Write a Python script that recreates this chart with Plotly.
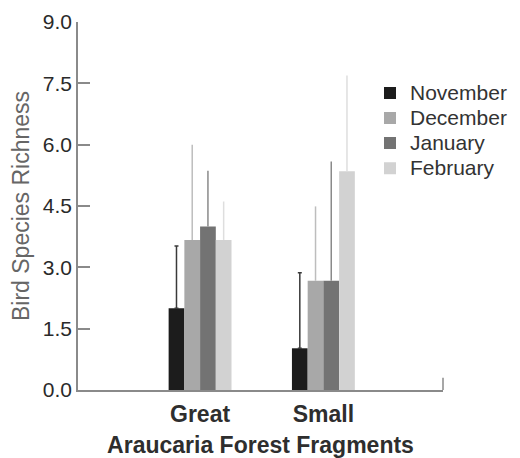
import plotly.graph_objects as go

categories = ["Great", "Small"]
months = ["November", "December", "January", "February"]
values = {
    "November": [2.0, 1.02],
    "December": [3.67, 2.67],
    "January": [4.0, 2.67],
    "February": [3.67, 5.35],
}
errors = {
    "November": [1.52, 1.85],
    "December": [2.33, 1.82],
    "January": [1.36, 2.92],
    "February": [0.94, 2.34],
}
bar_colors = {
    "November": "#1c1c1c",
    "December": "#a8a8a8",
    "January": "#737373",
    "February": "#d2d2d2",
}
err_colors = {
    "November": "#3a3a3a",
    "December": "#bdbdbd",
    "January": "#8a8a8a",
    "February": "#dedede",
}
cap_width = {"November": 2, "December": 0, "January": 0, "February": 0}
y_ticks = [0.0, 1.5, 3.0, 4.5, 6.0, 7.5, 9.0]

FONT = "Liberation Sans, Arial, sans-serif"
AX = "#8a8a8a"

fig = go.Figure()
for m in months:
    fig.add_trace(go.Bar(
        x=categories, y=values[m],
        name='<span style="font-size:21px">' + m + '</span>',
        marker=dict(color=bar_colors[m], line=dict(width=0)),
        error_y=dict(type="data", array=errors[m], symmetric=False,
                     arrayminus=[0, 0], color=err_colors[m],
                     thickness=1.5, width=cap_width[m]),
    ))

# the page body has an 8px default margin, so margins are offset by 8px
fig.update_layout(
    width=520, height=458,
    margin=dict(l=70, r=85, t=14, b=76),
    paper_bgcolor="white", plot_bgcolor="white",
    barmode="group", bargap=0.49, bargroupgap=0,
    font=dict(family=FONT, color="#333333"),
    showlegend=True,
    legend=dict(x=0.80, y=0.855, xanchor="left", yanchor="top",
                font=dict(size=17, color="#333333"),
                bgcolor="rgba(0,0,0,0)", tracegroupgap=0,
                itemwidth=30),
    xaxis=dict(type="category", range=[-0.99, 1.97], automargin=False,
               showline=True, linecolor=AX, linewidth=1.5,
               ticks="", showgrid=False, zeroline=False,
               tickfont=dict(size=23, color="#2e2e2e", family=FONT, weight="bold"),
               ticklabelstandoff=3,
               title=dict(text="<b>Araucaria Forest Fragments</b>",
                          font=dict(size=23, color="#2e2e2e"), standoff=11)),
    yaxis=dict(range=[0, 9], tickvals=y_ticks, tickformat=".1f", automargin=False,
               showline=True, linecolor=AX, linewidth=1.5,
               ticks="inside", ticklen=12, tickcolor=AX, tickwidth=1.5,
               showgrid=False, zeroline=False,
               tickfont=dict(size=21, color="#2a2a2a"),
               title=dict(text="Bird Species Richness",
                          font=dict(size=23, color="#666666"), standoff=8)),
    shapes=[dict(type="line", xref="x domain", yref="y domain",
                 x0=1, x1=1, y0=0, y1=0.033,
                 line=dict(color=AX, width=1.5))],
)

fig.write_html("out.html")
